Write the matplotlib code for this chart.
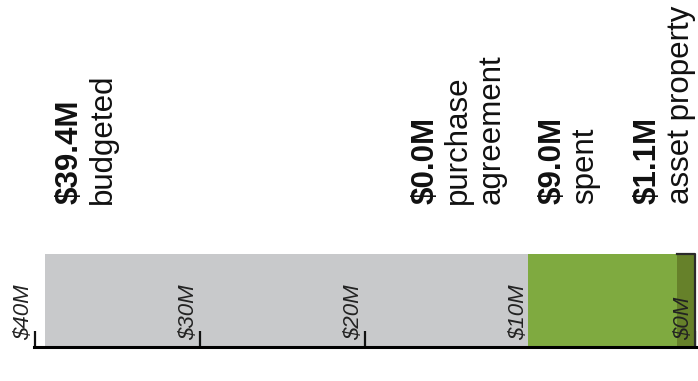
import matplotlib
matplotlib.use("Agg")
import matplotlib.pyplot as plt

plt.rcParams["font.family"] = ["Liberation Sans", "DejaVu Sans"]

# data ($M)
budgeted = 39.4
seg_names = ["asset property", "spent", "purchase\nagreement"]
seg_values = [1.1, 9.0, 0.0]
seg_colors = ["#66812a", "#7faa40", "#4f6f1f"]
tick_values = [40, 30, 20, 10, 0]
tick_labels = ["$40M", "$30M", "$20M", "$10M", "$0M"]

fig = plt.figure(figsize=(6.98, 3.81), dpi=100)
ax = fig.add_axes([33.5 / 698, 34 / 381, 662.5 / 698, 93 / 381])

# full budget bar behind
ax.barh(0, budgeted, height=1, align="edge", color="#c8c9cb", zorder=1)

# stacked spending from $0
starts = []
left = 0
for name, val, col in zip(seg_names, seg_values, seg_colors):
    ax.barh(0, val, left=left, height=1, align="edge", color=col, zorder=2)
    starts.append(left)
    left += val

# outline of the asset property box (top and right edges)
ax.plot([seg_values[0], 0, 0], [1, 1, 0], color="#2b2b2b", lw=1.6, zorder=3,
        solid_capstyle="projecting", clip_on=False)

ax.set_xlim(40.1, -0.06)
ax.set_ylim(0, 1)
for s in ["top", "left", "right"]:
    ax.spines[s].set_visible(False)
ax.spines["bottom"].set_linewidth(2.2)
ax.spines["bottom"].set_capstyle("projecting")
ax.spines["bottom"].set_zorder(4)
ax.set_yticks([])
ax.set_xticks(tick_values)
ax.tick_params(axis="x", direction="in", length=11.5, width=1.6,
               labelbottom=False, color="#111")
for t, lab in zip(tick_values, tick_labels):
    ax.annotate(lab, xy=(t, 0), xycoords=("data", "axes fraction"),
                xytext=(-1, 7), textcoords="offset pixels", rotation=90,
                ha="right", va="bottom", fontsize=16, style="italic",
                color="#222", zorder=5)


def label(x, dx, value, desc):
    lines = [(value, "bold")] + [(d, "normal") for d in desc.split("\n")]
    for i, (txt, w) in enumerate(lines):
        ax.annotate(txt, xy=(x, 0.4646), xycoords=("data", "figure fraction"),
                    xytext=(dx + i * 33, 0), textcoords="offset pixels",
                    rotation=90, ha="left", va="bottom", fontsize=22.5,
                    fontweight=w, color="#111", annotation_clip=False)


label(budgeted, 10, f"${budgeted:.1f}M", "budgeted")
# left edges of each stacked segment (higher value side)
ends = [s + v for s, v in zip(starts, seg_values)]
offsets = [-44, 9, -118]
for name, val, e, dx in zip(seg_names, seg_values, ends, offsets):
    label(e, dx, f"${val:.1f}M", name)

fig.savefig("out.png", dpi=100)
